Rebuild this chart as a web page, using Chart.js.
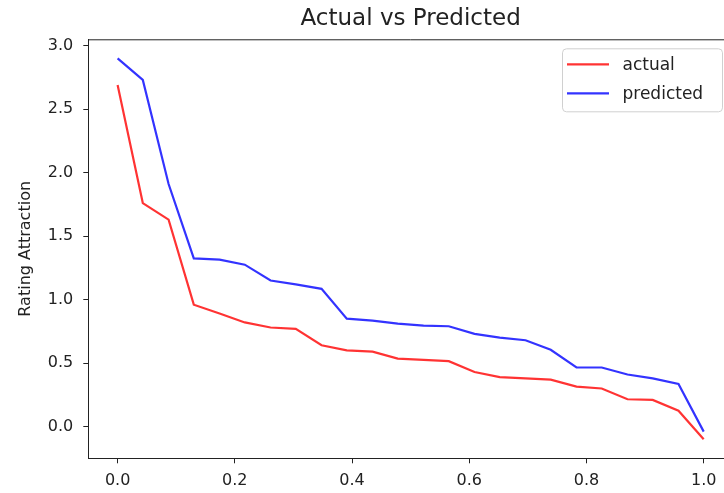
<!DOCTYPE html>
<html>
<head>
<meta charset="utf-8">
<script src="https://cdn.jsdelivr.net/npm/chart.js@4/dist/chart.umd.min.js"></script>
<style>
  html, body { margin: 0; padding: 0; background: #fff; overflow: hidden; }
  #wrap { width: 724px; height: 493px; overflow: hidden; }
</style>
</head>
<body>
<div id="wrap"><canvas id="lineChart" width="740" height="493"></canvas></div>
<script>
// data
const xValues = [0, 0.043, 0.087, 0.130, 0.174, 0.217, 0.261, 0.304, 0.348, 0.391, 0.435, 0.478,
                 0.522, 0.565, 0.609, 0.652, 0.696, 0.739, 0.783, 0.826, 0.870, 0.913, 0.957, 1.0];
const actual = [2.69, 1.76, 1.63, 0.96, 0.89, 0.82, 0.78, 0.77, 0.64, 0.60, 0.59, 0.535,
                0.525, 0.515, 0.43, 0.39, 0.38, 0.37, 0.315, 0.30, 0.215, 0.21, 0.125, -0.10];
const predicted = [2.90, 2.73, 1.91, 1.325, 1.315, 1.275, 1.15, 1.12, 1.085, 0.85, 0.835, 0.81,
                   0.795, 0.79, 0.73, 0.70, 0.68, 0.605, 0.465, 0.465, 0.41, 0.38, 0.335, -0.04];
const xTicks = [0, 0.2, 0.4, 0.6, 0.8, 1.0];
const yTicks = [0, 0.5, 1.0, 1.5, 2.0, 2.5, 3.0];

const font = "'DejaVu Sans', sans-serif";
const ink = '#222';

function points(ys) {
  return ys.map((y, i) => ({ x: xValues[i], y: y }));
}

// top spine + boxed legend, matplotlib style
const framePlugin = {
  id: 'frame',
  afterDraw(chart) {
    const { ctx, chartArea: a } = chart;
    ctx.save();
    ctx.strokeStyle = ink;
    ctx.lineWidth = 1;
    ctx.beginPath();
    ctx.moveTo(a.left, a.top + 0.5);
    ctx.lineTo(a.right, a.top + 0.5);
    ctx.moveTo(a.right - 0.5, a.top);
    ctx.lineTo(a.right - 0.5, a.bottom);
    ctx.stroke();

    // legend box
    const bw = 160, bh = 63;
    const bx = a.right - 10.5 - bw, by = a.top + 9.5;
    ctx.fillStyle = 'rgba(255,255,255,0.8)';
    ctx.strokeStyle = '#d0d0d0';
    ctx.beginPath();
    ctx.roundRect(bx, by, bw, bh, 4);
    ctx.fill();
    ctx.stroke();

    ctx.font = '17px ' + font;
    ctx.textBaseline = 'middle';
    chart.data.datasets.forEach((ds, i) => {
      const y = by + 15.5 + i * 29;
      ctx.strokeStyle = ds.borderColor;
      ctx.lineWidth = 2.2;
      ctx.beginPath();
      ctx.moveTo(bx + 4.5, y);
      ctx.lineTo(bx + 46.5, y);
      ctx.stroke();
      ctx.fillStyle = ink;
      ctx.fillText(ds.label, bx + 60, y + 1);
    });
    ctx.restore();
  }
};

const ctx = document.getElementById('lineChart').getContext('2d');

new Chart(ctx, {
  type: 'line',
  data: {
    datasets: [{
      label: 'actual',
      data: points(actual),
      borderColor: 'rgba(255,0,0,0.8)',
      borderWidth: 2.2,
      pointRadius: 0,
      tension: 0
    }, {
      label: 'predicted',
      data: points(predicted),
      borderColor: 'rgba(0,0,255,0.8)',
      borderWidth: 2.2,
      pointRadius: 0,
      tension: 0
    }]
  },
  options: {
    responsive: false,
    animation: false,
    layout: { padding: { left: 0, right: 7, top: 0, bottom: 0 } },
    plugins: {
      legend: { display: false },
      tooltip: { enabled: false },
      title: {
        display: true,
        text: 'Actual vs Predicted',
        fullSize: false,
        color: ink,
        font: { family: font, size: 23, weight: 'normal', lineHeight: 1.2 },
        padding: { top: 5, bottom: 6.7 }
      }
    },
    scales: {
      x: {
        type: 'linear',
        min: -0.05,
        max: 1.05,
        afterBuildTicks(scale) { scale.ticks = xTicks.map(v => ({ value: v })); },
        afterFit(scale) { scale.height = 34.7; },
        grid: { drawOnChartArea: false, drawTicks: true, tickLength: 5, tickColor: ink },
        border: { display: true, color: ink, width: 1 },
        ticks: {
          color: ink,
          padding: 8,
          maxRotation: 0,
          font: { family: font, size: 16 },
          callback: v => v.toFixed(1)
        }
      },
      y: {
        min: -0.25,
        max: 3.05,
        afterBuildTicks(scale) { scale.ticks = yTicks.map(v => ({ value: v })); },
        afterFit(scale) { scale.width = 88.3; },
        grid: { drawOnChartArea: false, drawTicks: true, tickLength: 5, tickColor: ink },
        border: { display: true, color: ink, width: 1 },
        title: {
          display: true,
          text: 'Rating Attraction',
          color: ink,
          font: { family: font, size: 16 },
          padding: { top: 16, bottom: 0 }
        },
        ticks: {
          color: ink,
          padding: 10,
          font: { family: font, size: 16 },
          callback: v => v.toFixed(1)
        }
      }
    }
  },
  plugins: [framePlugin]
});
</script>
</body>
</html>
